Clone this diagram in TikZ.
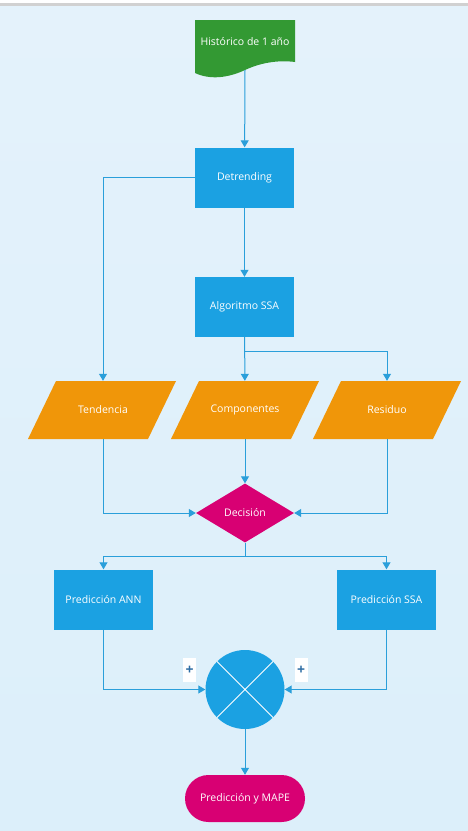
\documentclass[tikz,border=0pt]{standalone}
\usepackage{fontspec}
\setmainfont{Open Sans}
\usetikzlibrary{shapes.geometric,arrows.meta}
\definecolor{fondoarriba}{HTML}{E4F2FB}
\definecolor{fondoabajo}{HTML}{DCEFFA}
\definecolor{azul}{HTML}{1BA1E2}
\definecolor{linea}{HTML}{2A9FDA}
\definecolor{naranja}{HTML}{F09609}
\definecolor{magenta}{HTML}{D80073}
\definecolor{verde}{HTML}{339933}
\definecolor{signoazul}{HTML}{2E6DA4}

\begin{document}
\begin{tikzpicture}[x=1pt,y=-1pt,
  every node/.style={text=white,font=\fontsize{10.5}{12}\selectfont},
  proceso/.style={rectangle,fill=azul,minimum width=99pt,minimum height=60pt,inner sep=0pt},
  datos/.style={rectangle,minimum width=92pt,minimum height=58pt,inner sep=0pt},
  decision/.style={diamond,fill=magenta,minimum width=98pt,minimum height=59pt,inner sep=0pt},
  suma/.style={circle,fill=azul,minimum size=79pt,inner sep=0pt},
  final/.style={rectangle,rounded corners=23.5pt,fill=magenta,minimum width=120pt,minimum height=47pt,inner sep=0pt},
  signo/.style={rectangle,fill=white,text=signoazul,minimum width=13pt,minimum height=24pt,inner sep=0pt,
    font=\fontsize{14}{14}\selectfont\bfseries},
  flecha/.style={draw=linea,line width=1pt,-{Triangle[length=7pt,width=8pt]}},
  conector/.style={draw=linea,line width=1pt}]

% fondo
\useasboundingbox (0,0) rectangle (468,831);
\fill[white] (0,0) rectangle (468,3);
\fill[black!18] (0,3) rectangle (468,6);
\shade[top color=fondoarriba,bottom color=fondoabajo] (0,6) rectangle (468,831);

% documento de entrada
\fill[verde] (195,20) -- (295,20) -- (295,62)
  .. controls (280,60) and (262,62) .. (245,70)
  .. controls (228,78) and (210,80) .. (195,73) -- cycle;
\node (hist) at (245,42) {Histórico de 1 año};
\coordinate (histpie) at (245,70);

% paralelogramos de datos
\foreach \cx in {102,245,387}
  \fill[naranja,shift={(\cx,410)}] (-46,-29) -- (74,-29) -- (46,29) -- (-74,29) -- cycle;

% nodos
\node[proceso] (detr) at (244.5,177.5) {Detrending};
\node[proceso] (algo) at (244.5,307) {Algoritmo SSA};
\node[datos] (tend) at (103,410) {Tendencia};
\node[datos] (comp) at (245,410) {Componentes};
\node[datos] (resi) at (387,410) {Residuo};
\node[decision] (deci) at (245,513) {Decisión};
\node[proceso] (pann) at (103.5,599.5) {Predicción ANN};
\node[proceso] (pssa) at (386.5,599.5) {Predicción SSA};
\node[suma] (suma) at (245,689.5) {};
\draw[white,line width=0.8pt] (suma.45) -- (suma.225) (suma.135) -- (suma.-45);
\node[final] (fin) at (245,798.5) {Predicción y MAPE};
\node[signo] (mas1) at (189.5,670) {+};
\node[signo] (mas2) at (301,670) {+};

% conectores
\coordinate (rama) at (245,351);
\coordinate (rama2) at (245,556);
\draw[flecha] (histpie) -- (detr);
\draw[flecha] (detr.west) -| (tend);
\draw[flecha] (detr) -- (algo);
\draw[flecha] (algo) -- (comp);
\draw[flecha] (rama) -| (resi);
\draw[flecha] (tend) |- (deci);
\draw[flecha] (comp) -- (deci);
\draw[flecha] (resi) |- (deci);
\draw[conector] (deci) -- (rama2);
\draw[flecha] (rama2) -| (pann);
\draw[flecha] (rama2) -| (pssa);
\draw[flecha] (pann) |- (suma);
\draw[flecha] (pssa) |- (suma);
\draw[flecha] (suma) -- (fin);
\end{tikzpicture}
\end{document}
